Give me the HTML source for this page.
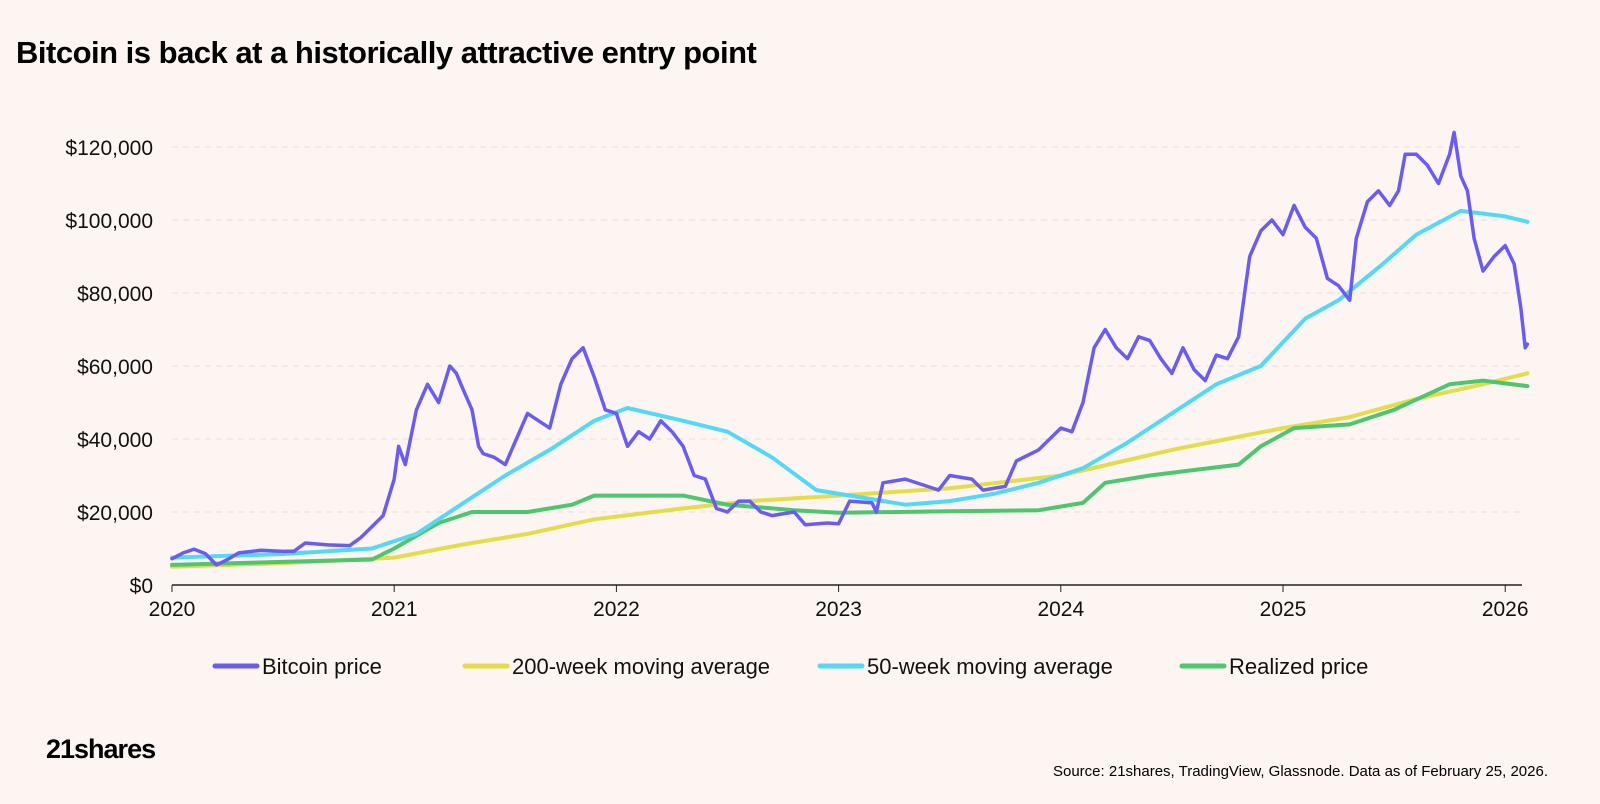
<!DOCTYPE html>
<html><head><meta charset="utf-8"><style>
body{margin:0;width:1600px;height:804px;background:#fdf5f2;font-family:"Liberation Sans",sans-serif;overflow:hidden}
svg{position:absolute;left:0;top:0}
</style></head><body>
<svg width="1600" height="804">
<text x="16" y="63" font-size="31" font-weight="bold" fill="#000" letter-spacing="-0.5">Bitcoin is back at a historically attractive entry point</text>
<g id="grid"></g><g id="lines"></g>
<g font-size="22" fill="#111">
<line x1="215" y1="666" x2="257" y2="666" stroke="#6a5cf0" stroke-width="5" stroke-linecap="round"/><text x="262" y="674">Bitcoin price</text>
<line x1="465" y1="666" x2="507" y2="666" stroke="#e5dc4c" stroke-width="5" stroke-linecap="round"/><text x="512" y="674">200-week moving average</text>
<line x1="820" y1="666" x2="862" y2="666" stroke="#55d8f5" stroke-width="5" stroke-linecap="round"/><text x="867" y="674">50-week moving average</text>
<line x1="1182" y1="666" x2="1224" y2="666" stroke="#4fc56f" stroke-width="5" stroke-linecap="round"/><text x="1229" y="674">Realized price</text>
</g>
<text x="46" y="758" font-size="27" font-weight="bold" letter-spacing="-1">21shares</text>
<text x="1548" y="776" font-size="15" text-anchor="end">Source: 21shares, TradingView, Glassnode. Data as of February 25, 2026.</text>
</svg>
<script>
const yTicks=[0,20000,40000,60000,80000,100000,120000];
const xTicks=[2020,2021,2022,2023,2024,2025,2026];
const btcT=[2020,2020.05,2020.1,2020.15,2020.2,2020.25,2020.3,2020.4,2020.5,2020.55,2020.6,2020.7,2020.8,2020.85,2020.9,2020.95,2021,2021.02,2021.05,2021.1,2021.15,2021.2,2021.25,2021.28,2021.3,2021.35,2021.38,2021.4,2021.45,2021.5,2021.55,2021.6,2021.65,2021.7,2021.75,2021.8,2021.85,2021.9,2021.95,2022,2022.05,2022.1,2022.15,2022.2,2022.25,2022.3,2022.35,2022.4,2022.45,2022.5,2022.55,2022.6,2022.65,2022.7,2022.8,2022.85,2022.95,2023,2023.05,2023.15,2023.17,2023.2,2023.3,2023.4,2023.45,2023.5,2023.6,2023.65,2023.75,2023.8,2023.9,2024,2024.05,2024.1,2024.15,2024.2,2024.25,2024.3,2024.35,2024.4,2024.45,2024.5,2024.55,2024.6,2024.65,2024.7,2024.75,2024.8,2024.85,2024.9,2024.95,2025,2025.05,2025.1,2025.15,2025.2,2025.25,2025.3,2025.33,2025.38,2025.43,2025.48,2025.52,2025.55,2025.6,2025.65,2025.7,2025.75,2025.77,2025.8,2025.83,2025.86,2025.9,2025.95,2026,2026.04,2026.07,2026.09,2026.1];
const btcV=[7200,8800,9800,8600,5500,7000,8800,9500,9200,9300,11500,11000,10800,13000,16000,19000,29000,38000,33000,48000,55000,50000,60000,58000,55000,48000,38000,36000,35000,33000,40000,47000,45000,43000,55000,62000,65000,57000,48000,47000,38000,42000,40000,45000,42000,38000,30000,29000,21000,20000,23000,23000,20000,19000,20000,16500,17000,16800,23000,22500,20000,28000,29000,27000,26000,30000,29000,26000,27000,34000,37000,43000,42000,50000,65000,70000,65000,62000,68000,67000,62000,58000,65000,59000,56000,63000,62000,68000,90000,97000,100000,96000,104000,98000,95000,84000,82000,78000,95000,105000,108000,104000,108000,118000,118000,115000,110000,118000,124000,112000,108000,95000,86000,90000,93000,88000,76000,65000,66000];
const ma50T=[2020,2020.5,2020.9,2021.1,2021.3,2021.5,2021.7,2021.9,2022.05,2022.3,2022.5,2022.7,2022.9,2023.1,2023.3,2023.5,2023.7,2023.9,2024.1,2024.3,2024.5,2024.7,2024.9,2025.1,2025.25,2025.45,2025.6,2025.8,2026,2026.1];
const ma50V=[7500,8500,10000,14000,22000,30000,37000,45000,48500,45000,42000,35000,26000,24000,22000,23000,25000,28000,32000,39000,47000,55000,60000,73000,78000,88000,96000,102500,101000,99500];
const ma200T=[2020,2020.5,2021,2021.3,2021.6,2021.9,2022.3,2022.6,2023,2023.5,2024,2024.5,2025,2025.3,2025.6,2025.9,2026.1];
const ma200V=[5000,6000,7500,11000,14000,18000,21000,23000,24500,26500,30000,37000,43000,46000,51000,55000,58000];
const realT=[2020,2020.9,2021,2021.2,2021.35,2021.6,2021.8,2021.9,2022.3,2022.5,2022.8,2023,2023.5,2023.9,2024.1,2024.2,2024.4,2024.6,2024.8,2024.9,2025.05,2025.3,2025.5,2025.75,2025.9,2026.1];
const realV=[5500,7000,10000,17000,20000,20000,22000,24500,24500,22000,20500,19800,20200,20500,22500,28000,30000,31500,33000,38000,43000,44000,48000,55000,56000,54500];
const X=t=>172+(t-2020)*222.2;
const Y=v=>585-v*(438/120000);
const ns="http://www.w3.org/2000/svg";
const grid=document.getElementById('grid'),lines=document.getElementById('lines');
function mk(tag,attrs,parent){const e=document.createElementNS(ns,tag);for(const k in attrs)e.setAttribute(k,attrs[k]);parent.appendChild(e);return e;}
yTicks.forEach(v=>{
 if(v>0){const g=mk('line',{x1:172,x2:1522,y1:Y(v),y2:Y(v),stroke:'#e6dedb','stroke-dasharray':'6,5'},grid);
 
 }
 const t=mk('text',{x:153,y:Y(v)+8,'font-size':21,'text-anchor':'end',fill:'#111'},grid);t.textContent='$'+v.toLocaleString('en-US');
 
 
});
const ax=mk('line',{x1:172,x2:1522,y1:585,y2:585,stroke:'#222','stroke-width':1.5},grid);


xTicks.forEach(y=>{
 const tk=mk('line',{x1:X(y),x2:X(y),y1:585,y2:592,stroke:'#222'},grid);
 
 
 const t=mk('text',{x:X(y),y:616,'font-size':21,'text-anchor':'middle',fill:'#111'},grid);t.textContent=y;
 
 
});
function line(T,V,color,name,w){
 const d=T.map((t,i)=>(i?'L':'M')+X(t).toFixed(1)+','+Y(V[i]).toFixed(1)).join(' ');
 const p=mk('path',{d:d,fill:'none',stroke:color,'stroke-width':w,'stroke-linejoin':'round','stroke-linecap':'round'},lines);
 
 
}
line(ma200T,ma200V,'#e5dc4c','ma200-line',4);
line(realT,realV,'#4fc56f','realized-price-line',4);
line(ma50T,ma50V,'#55d8f5','ma50-line',4);
line(btcT,btcV,'#6a5cf0','bitcoin-price-line',3.5);
</script>
</body></html>
